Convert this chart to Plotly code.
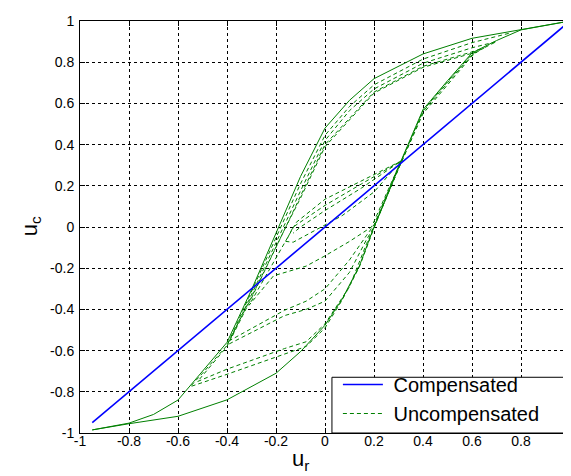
import plotly.graph_objects as go

# ---------------- data ----------------
# Compensated response (nearly the identity)
ur_comp = [-0.95, -0.6, -0.2, 0.2, 0.6, 1.0]
uc_comp = [-0.95, -0.6, -0.2, 0.2, 0.6, 1.0]

# Uncompensated: major hysteresis loop
ur_major_up = [-0.95, -0.8, -0.6, -0.4, -0.2, -0.1, 0.0, 0.07, 0.14, 0.2, 0.31, 0.4, 0.5, 0.6, 0.7, 0.8, 1.0]
uc_major_up = [-0.985, -0.955, -0.919, -0.839, -0.71, -0.605, -0.477, -0.35, -0.19, 0.0, 0.32, 0.57, 0.71, 0.845, 0.905, 0.957, 1.0]
ur_major_dn = [1.0, 0.8, 0.6, 0.4, 0.2, 0.1, 0.0, -0.1, -0.19, -0.3, -0.4, -0.5, -0.6, -0.7, -0.8, -0.95]
uc_major_dn = [1.0, 0.957, 0.916, 0.84, 0.72, 0.615, 0.48, 0.245, 0.0, -0.305, -0.56, -0.70, -0.84, -0.91, -0.952, -0.985]

# Uncompensated: minor (reversal) branches
ur_dn1 = [0.75, 0.6, 0.4, 0.2, 0.1, 0.0, -0.1, -0.18, -0.3, -0.4, -0.5, -0.55]
uc_dn1 = [0.94, 0.895, 0.815, 0.69, 0.585, 0.445, 0.21, 0.0, -0.32, -0.575, -0.71, -0.775]
ur_up1 = [-0.55, -0.4, -0.165, -0.077, 0.0, 0.07, 0.14, 0.2, 0.31, 0.4, 0.5, 0.6, 0.7]
uc_up1 = [-0.775, -0.715, -0.614, -0.58, -0.49, -0.355, -0.195, -0.005, 0.315, 0.565, 0.705, 0.84, 0.9]
ur_dn2 = [0.7, 0.6, 0.4, 0.2, 0.1, 0.0, -0.1, -0.17, -0.3, -0.4, -0.52]
uc_dn2 = [0.9, 0.87, 0.795, 0.67, 0.565, 0.42, 0.175, 0.0, -0.33, -0.58, -0.75]
ur_up2 = [-0.52, -0.4, -0.165, -0.077, 0.0, 0.1, 0.17, 0.2, 0.31, 0.4, 0.5, 0.6, 0.65]
uc_up2 = [-0.75, -0.69, -0.59, -0.557, -0.47, -0.29, -0.08, 0.0, 0.31, 0.56, 0.70, 0.835, 0.87]
ur_dn3 = [0.65, 0.6, 0.4, 0.2, 0.0, -0.1, -0.16, -0.3, -0.4]
uc_dn3 = [0.87, 0.85, 0.78, 0.655, 0.40, 0.15, 0.0, -0.34, -0.573]
ur_up3 = [-0.4, -0.165, -0.077, 0.0, 0.1, 0.17, 0.2, 0.31, 0.4, 0.5, 0.6, 0.62]
uc_up3 = [-0.573, -0.43, -0.40, -0.36, -0.22, -0.06, 0.0, 0.31, 0.55, 0.69, 0.83, 0.85]
ur_dn4 = [0.62, 0.4, 0.2, 0.0, -0.1, -0.16, -0.3, -0.387]
uc_dn4 = [0.85, 0.775, 0.65, 0.39, 0.14, 0.0, -0.345, -0.55]
ur_up4 = [-0.387, -0.165, -0.077, 0.0, 0.1, 0.17, 0.2, 0.31]
uc_up4 = [-0.55, -0.404, -0.36, -0.30, -0.16, -0.04, 0.01, 0.32]
ur_dn5 = [0.31, 0.15, 0.0, -0.117, -0.2, -0.31]
uc_dn5 = [0.32, 0.225, 0.135, 0.023, -0.15, -0.38]
ur_up5 = [-0.31, -0.21, -0.13, -0.077, 0.0, 0.1, 0.19, 0.31]
uc_up5 = [-0.38, -0.237, -0.21, -0.19, -0.14, -0.07, 0.0, 0.32]
ur_dn6 = [0.31, 0.15, 0.0, -0.13, -0.16]
uc_dn6 = [0.32, 0.21, 0.105, 0.0, -0.07]
ur_up6 = [-0.16, -0.13, 0.07, 0.2, 0.31]
uc_up6 = [-0.07, -0.074, 0.055, 0.17, 0.32]
ur_dn7 = [0.31, 0.15, 0.0, -0.1, -0.13]
uc_dn7 = [0.32, 0.19, 0.08, 0.0, -0.03]

tick_vals = [-1, -0.8, -0.6, -0.4, -0.2, 0, 0.2, 0.4, 0.6, 0.8, 1]
tick_text = ["-1", "-0.8", "-0.6", "-0.4", "-0.2", "0", "0.2", "0.4", "0.6", "0.8", "1"]

# ---------------- build ----------------
minor_x = (ur_dn1 + ur_up1 + ur_dn2 + ur_up2 + ur_dn3 + ur_up3 + ur_dn4 + ur_up4
           + ur_dn5 + ur_up5 + ur_dn6 + ur_up6 + ur_dn7)
minor_y = (uc_dn1 + uc_up1 + uc_dn2 + uc_up2 + uc_dn3 + uc_up3 + uc_dn4 + uc_up4
           + uc_dn5 + uc_up5 + uc_dn6 + uc_up6 + uc_dn7)

GREEN = "rgb(0,128,0)"
BLUE = "rgb(0,0,255)"
NB = "\u00a0"

fig = go.Figure()
fig.add_trace(go.Scatter(
    x=ur_major_up + ur_major_dn, y=uc_major_up + uc_major_dn, mode="lines",
    line=dict(color=GREEN, width=1), showlegend=False, hoverinfo="skip",
    legendgroup="unc"))
fig.add_trace(go.Scatter(
    x=minor_x, y=minor_y, mode="lines", name=NB + "Uncompensated",
    line=dict(color=GREEN, width=1, dash="4px,3px"), legendgroup="unc", legendrank=2))
fig.add_trace(go.Scatter(
    x=ur_comp, y=uc_comp, mode="lines", name=NB + "Compensated",
    line=dict(color=BLUE, width=1.6), legendrank=1))

axis_common = dict(
    range=[-1, 1], tickvals=tick_vals, ticktext=tick_text,
    ticks="inside", ticklen=5, tickcolor="black",
    showline=True, linecolor="black", linewidth=1, mirror="ticks",
    showgrid=True, gridcolor="black", gridwidth=1, griddash="3px,3px",
    zeroline=False, tickfont=dict(family="Arial", size=14, color="black"),
    fixedrange=True,
)
fig.update_xaxes(**axis_common, ticklabelstandoff=-5)
fig.update_yaxes(**axis_common, ticklabelstandoff=2)

# legend frame (paper coords of the plot area: 0..1)
leg_x0, leg_x1 = (326 - 72) / 494, 1.0
leg_y0, leg_y1 = 0.0, (425 - 369) / 414

fig.update_layout(
    width=571, height=476,
    margin=dict(l=72, r=5, t=11, b=51),
    paper_bgcolor="white", plot_bgcolor="white",
    legend=dict(x=(332 - 72) / 494, y=0.0, xanchor="left", yanchor="bottom",
                bgcolor="rgba(0,0,0,0)", borderwidth=0,
                font=dict(family="Arial", size=20, color="black"),
                itemwidth=40, tracegroupgap=0),
    shapes=[dict(type="rect", xref="paper", yref="paper",
                 x0=leg_x0, x1=leg_x1, y0=leg_y0, y1=leg_y1,
                 fillcolor="white", line=dict(color="black", width=1),
                 layer="above")],
    annotations=[
        dict(text="u<sub>r</sub>", xref="paper", yref="paper", x=0.45, y=-0.065,
             xanchor="center", yanchor="middle", showarrow=False,
             font=dict(family="Arial", size=22, color="black")),
        dict(text="u<sub>c</sub>", xref="paper", yref="paper", x=-0.1, y=0.502,
             xanchor="center", yanchor="middle", showarrow=False, textangle=-90,
             font=dict(family="Arial", size=22, color="black")),
    ],
)

fig.write_html("out.html")
